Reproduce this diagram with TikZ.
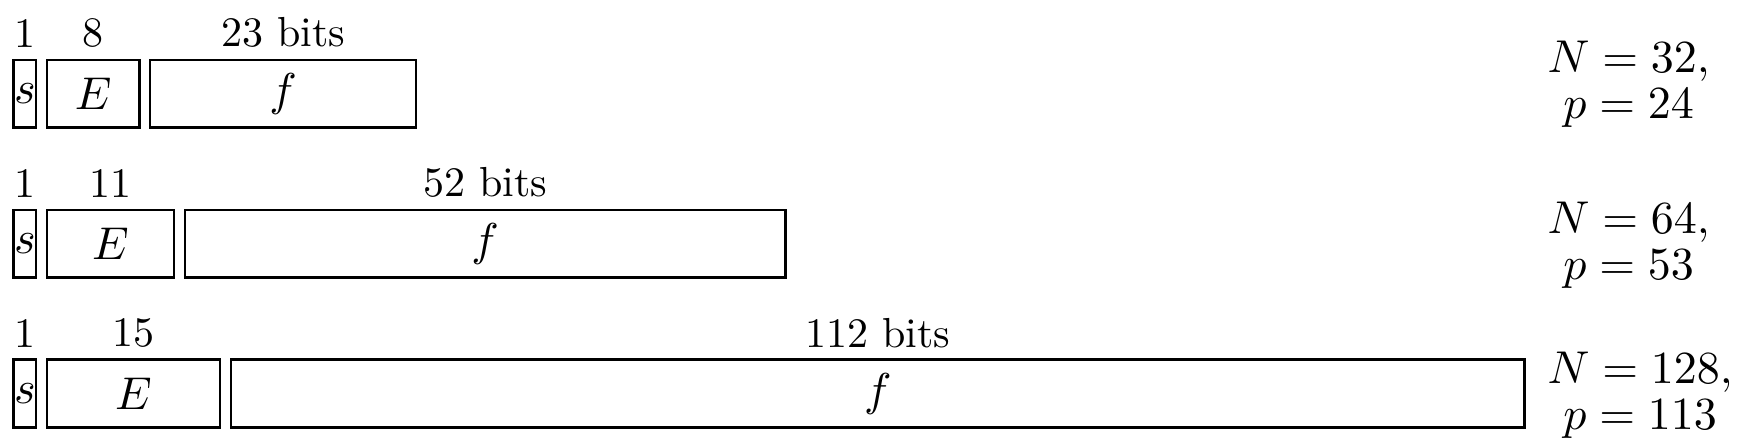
\documentclass[tikz,border=0pt,11pt]{standalone}
\usetikzlibrary{positioning}
\tikzset{>=stealth}
\tikzset{
    field/.style={draw, semithick, inner sep=0pt, inner xsep=0.1pt, minimum height=16.1pt, minimum width=#1*2.75pt},
    bitlbl/.style={font=\small, inner sep=0pt},
    fmt/.style={align=center, inner sep=0pt, anchor=north west, font=\fontsize{10.95}{10.9}\selectfont}
}
\begin{document}
\begin{tikzpicture}[node distance=2pt]
    \useasboundingbox (0,0) rectangle (418.1pt,-105.2pt);
    \node[field=1] (s1) at (5.9pt,-22.3pt) {$s$};
    \node[field=8, right=of s1] (E1) {$E$};
    \node[field=23, right=of E1] (f1) {$f$};
    \node[bitlbl, above=2.35pt of s1] (ls1) {1};
    \node[bitlbl, above=2.35pt of E1] (lE1) {8};
    \node[bitlbl, above=2.35pt of f1] (lf1) {23 bits};
    \node[fmt] (fmt1) at (368.3pt,-9.6pt) {$N=32,$\\$p=24$};

    \node[field=1] (s2) at (5.9pt,-58.0pt) {$s$};
    \node[field=11, right=of s2] (E2) {$E$};
    \node[field=52, right=of E2] (f2) {$f$};
    \node[bitlbl, above=2.35pt of s2] (ls2) {1};
    \node[bitlbl, above=2.35pt of E2] (lE2) {11};
    \node[bitlbl, above=2.35pt of f2] (lf2) {52 bits};
    \node[fmt] (fmt2) at (368.3pt,-48.0pt) {$N=64,$\\$p=53$};

    \node[field=1] (s3) at (5.9pt,-93.7pt) {$s$};
    \node[field=15, right=of s3] (E3) {$E$};
    \node[field=112, right=of E3] (f3) {$f$};
    \node[bitlbl, above=2.35pt of s3] (ls3) {1};
    \node[bitlbl, above=2.35pt of E3] (lE3) {15};
    \node[bitlbl, above=2.35pt of f3] (lf3) {112 bits};
    \node[fmt] (fmt3) at (368.3pt,-83.7pt) {$N=128,$\\$p=113$};
\end{tikzpicture}
\end{document}
